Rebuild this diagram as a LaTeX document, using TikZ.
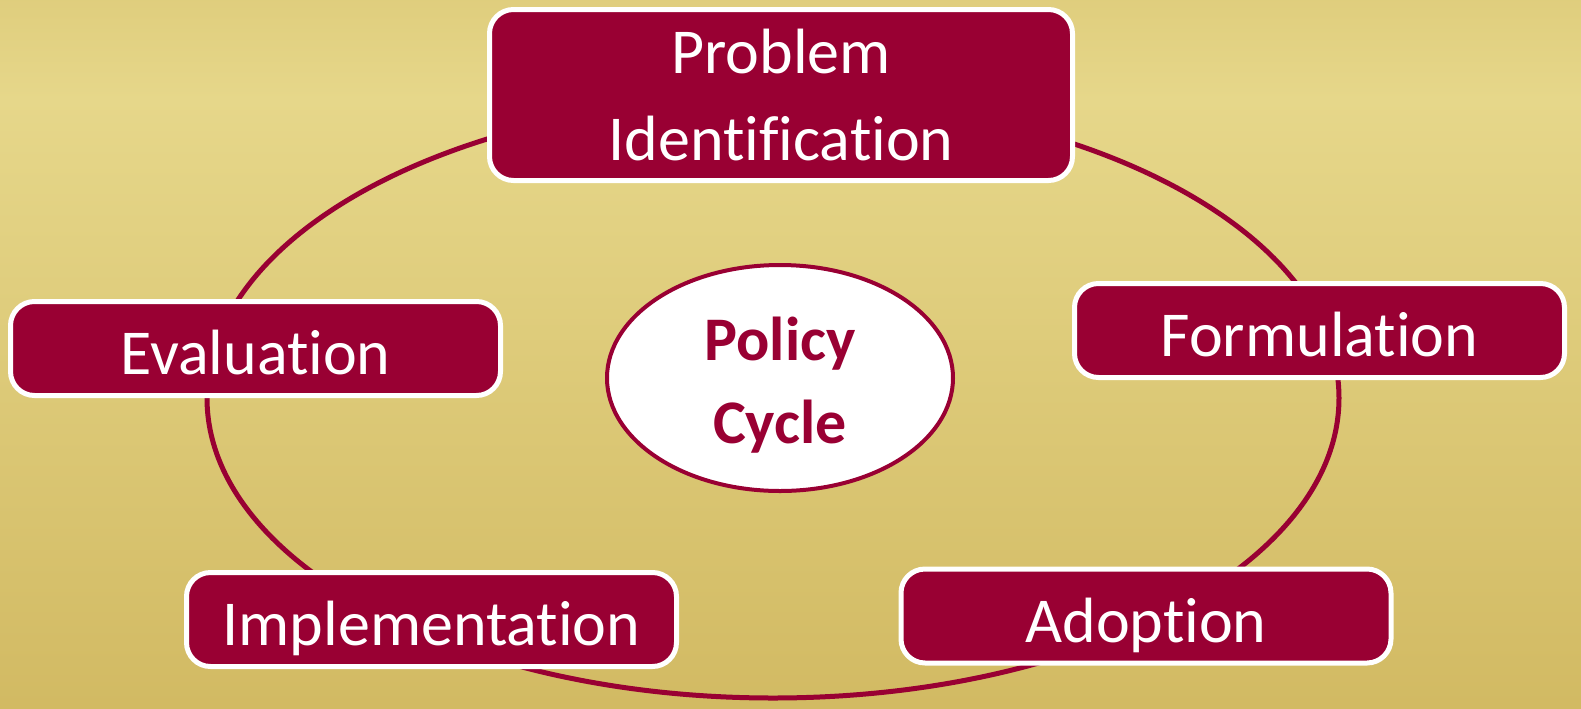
\documentclass[tikz,border=0pt]{standalone}
\usepackage{fontspec}
\setmainfont{Carlito}[Ligatures={NoCommon}]
\usetikzlibrary{shapes.geometric}
\definecolor{maroon}{HTML}{990033}
\definecolor{gtop}{HTML}{C8AD50}
\definecolor{glight}{HTML}{E6D78A}
\definecolor{gbot}{HTML}{C6A94C}
\pgfdeclareverticalshading{goldbg}{100bp}{color(0bp)=(gbot); color(68bp)=(glight); color(100bp)=(gtop)}
\begin{document}
\begin{tikzpicture}[x=0.5pt,y=-0.5pt,
  stage/.style={draw=white, line width=2.5pt, fill=maroon, rounded corners=12pt,
    text=white, font=\fontsize{32}{43.5}\selectfont, align=center,
    minimum width=245pt, minimum height=47pt, inner sep=0pt,
    text height=26pt, text depth=0pt},
  hub/.style={ellipse, draw=maroon, line width=2pt, fill=white, text=maroon,
    font=\fontsize{31}{41.5}\selectfont\bfseries,
    minimum width=173pt, minimum height=113pt, inner sep=0pt},
  cycle/.style={draw=maroon, line width=2.5pt}]
\shade[shading=goldbg] (0,0) rectangle (1581,708);
\coordinate (c) at (773,398);
\draw[cycle] (c) ellipse [x radius=566, y radius=300];
\node[hub] (hub) at (780,378) {\raisebox{9pt}[0pt][0pt]{\begin{tabular}[t]{@{}c@{}}Policy\\Cycle\end{tabular}}};
\node[stage, minimum width=291.5pt, minimum height=85.5pt, text height=0pt, text depth=0pt] (prob) at (781,95)
  {\raisebox{11pt}[0pt][0pt]{\begin{tabular}[t]{@{}c@{}}Problem\\Identification\end{tabular}}};
\node[stage] (form) at (1319.5,330.5) {Formulation};
\node[stage] (adop) at (1146,616) {Adoption};
\node[stage] (impl) at (431.5,619.5) {Implementation};
\node[stage] (eval) at (255.5,348.5) {Evaluation};
\pgfresetboundingbox
\useasboundingbox (0,0) rectangle (1581,708);
\end{tikzpicture}
\end{document}
